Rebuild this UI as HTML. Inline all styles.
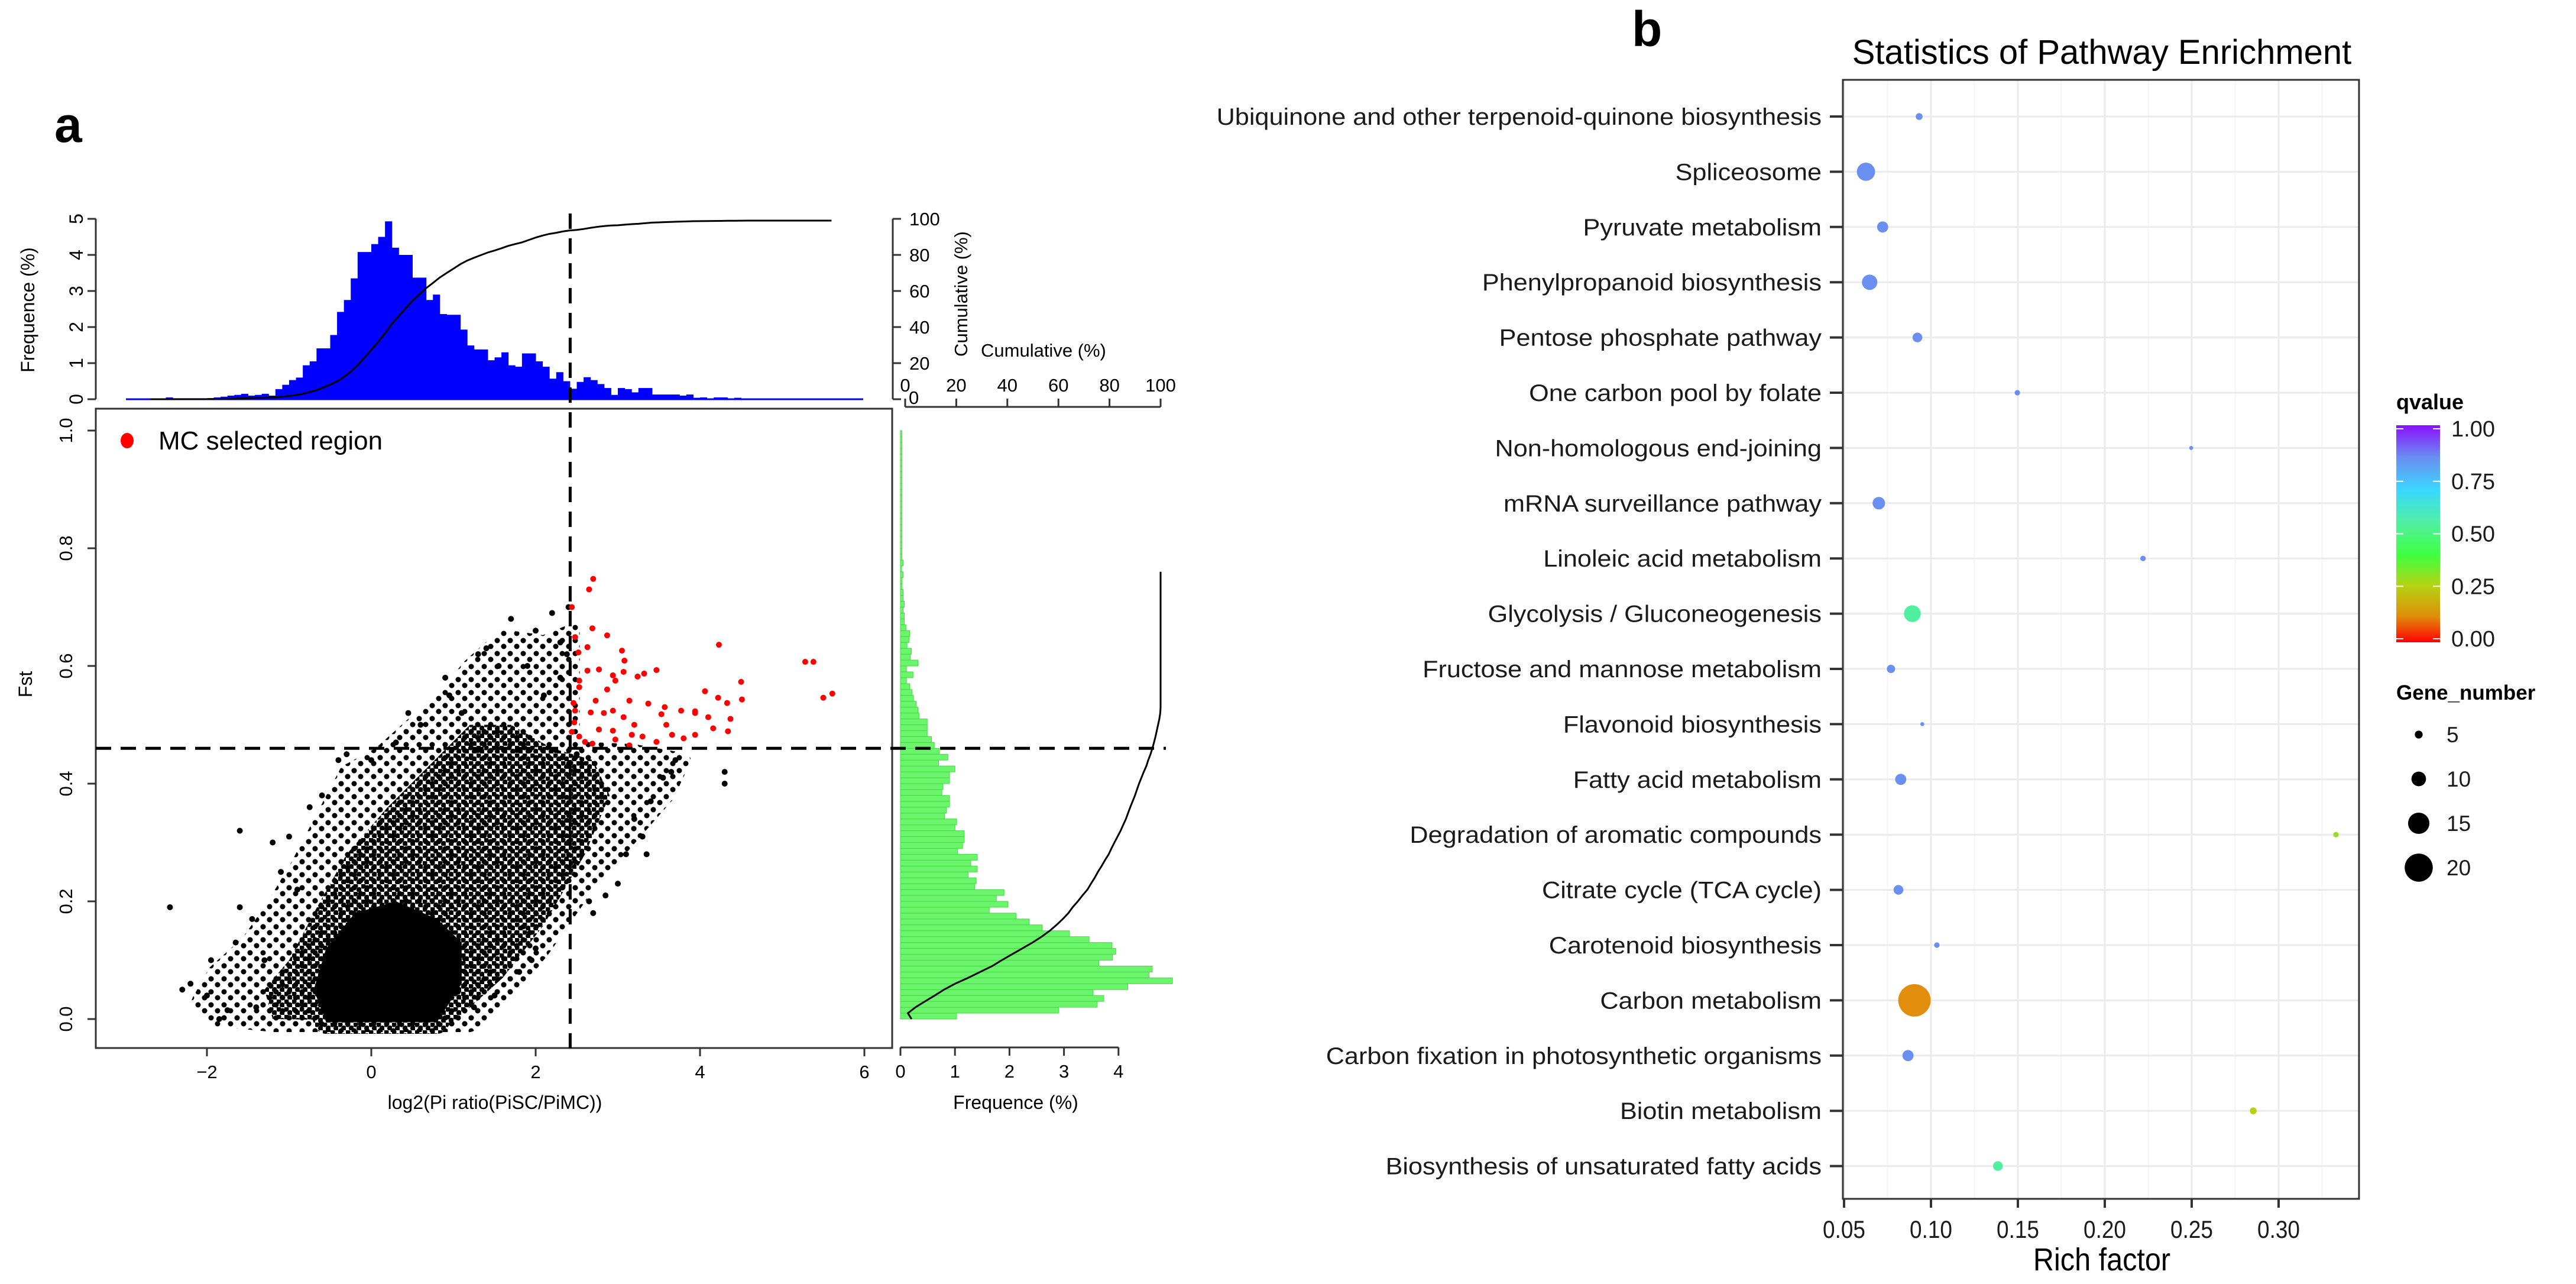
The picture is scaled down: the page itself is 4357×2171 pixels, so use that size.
<!DOCTYPE html>
<html><head><meta charset="utf-8">
<style>
html,body{margin:0;padding:0;background:#fff;}
svg{display:block;font-family:"Liberation Sans",Arial,sans-serif;}
</style></head>
<body>
<svg id="fig" xmlns="http://www.w3.org/2000/svg" width="4357" height="2171" viewBox="0 0 4357 2171">
<defs>
<pattern id="dotsSparse" x="0" y="0" width="22" height="22" patternUnits="userSpaceOnUse">
<circle cx="5" cy="5" r="4.5" fill="#000"/><circle cx="16" cy="15" r="4.5" fill="#000"/>
</pattern>
<pattern id="dotsDense" x="0" y="0" width="13" height="13" patternUnits="userSpaceOnUse">
<circle cx="3" cy="3" r="4.6" fill="#000"/><circle cx="9.5" cy="9.5" r="4.6" fill="#000"/>
</pattern>
</defs>
<rect x="0" y="0" width="4357" height="2171" fill="#fff"/>
<g id="pa"></g>
<g id="pb"></g>
</svg>
<script>
// ---------------- Panel A data ----------------
const topHistStart = -3;
const topHistWidth = 1/12;
const topHistFreq = [0,0,0,0,0,0,0.05,0,0,0,0,0,0.03,0.05,0.07,0.1,0.12,0.15,0.1,0.12,0.15,0.1,
 0.28,0.4,0.53,0.6,0.94,1.05,1.41,1.41,1.78,2.42,2.75,3.35,4.08,4.08,4.3,4.5,4.93,4.2,4.0,4.0,
 3.37,3.37,2.75,2.9,2.36,2.34,2.34,1.93,1.49,1.38,1.38,1.08,1.16,1.3,0.94,0.9,1.27,1.27,1.05,0.9,
 0.57,0.75,0.5,0.29,0.48,0.61,0.53,0.42,0.31,0.12,0.31,0.28,0.19,0.31,0.31,0.13,0.13,0.13,0.13,0.1,
 0.13,0.04,0.05,0.02,0.05,0.05,0.02,0.04,0.02];
const rightHistStart = 0;
const rightHistWidth = 0.01;
const rightHistFreq = [1.03,2.9,3.61,3.73,3.53,4.17,4.99,4.56,4.62,3.64,3.89,3.95,3.88,3.46,3.1,2.6,2.36,2.12,1.63,1.97,
 1.76,1.9,1.36,1.39,1.24,1.41,1.29,1.41,1.05,1.14,1.17,1.17,1.0,1.03,0.81,0.84,0.9,0.9,0.76,0.78,
 0.9,0.9,1.0,0.7,0.87,0.71,0.62,0.57,0.49,0.49,0.49,0.34,0.32,0.29,0.24,0.21,0.17,0.11,0.23,0.11,
 0.32,0.18,0.2,0.12,0.16,0.17,0.1,0.07,0.07,0.05,0.07,0.05,0.05,0.03,0.03,0.05,0.02,0.05,0.025,0.025,
 0.025,0.025,0.025,0.025,0.025,0.025,0.025,0.025,0.025,0.025,0.025,0.025,0.025,0.025,0.025,0.025,0.025,0.025,0.025,0.025];
const cloudOuter = [[-1.9,0.0],[-1.2,-0.01],[1.2,-0.01],[1.7,0.05],[2.1,0.12],[2.6,0.22],[3.1,0.3],[3.6,0.38],[3.8,0.44],[3.2,0.455],[2.45,0.46],[2.45,0.66],[2.1,0.64],[1.6,0.65],[1.2,0.6],[0.9,0.55],[0.5,0.5],[0.1,0.45],[-0.3,0.42],[-0.6,0.34],[-0.9,0.26],[-1.2,0.19],[-1.5,0.13],[-1.9,0.08],[-2.1,0.03]];
const cloudMid = [[-1.2,0.0],[1.0,-0.005],[1.6,0.07],[2.1,0.16],[2.6,0.28],[2.9,0.38],[2.7,0.44],[2.2,0.46],[1.7,0.5],[1.2,0.5],[0.7,0.43],[0.2,0.36],[-0.3,0.28],[-0.7,0.18],[-1.0,0.1],[-1.3,0.05]];
const cloudCore = [[-0.55,-0.005],[0.8,-0.005],[1.1,0.06],[1.1,0.13],[0.8,0.17],[0.3,0.2],[-0.2,0.18],[-0.55,0.12],[-0.7,0.05]];
const blackX = [-2.45,-1.6,-1.6,-1.0,-1.2,-0.3,-0.4,0.9,1.4,1.7,2.2,2.4,2.0,3.3,3.55,4.3,4.3,3.0,2.85,2.65,-2.3,-2.2,-1.85,-1.95,-1.65,2.5,3.7,3.4,1.1,0.3,0.6,1.9,2.3,-0.75,3.1,1.8,2.0,1.5,-1.4,-2.0,2.38,2.3,1.55,0.95,3.65,3.2,-1.75,-1.3,-0.9,-0.6,0.0,0.45,1.3,2.1,2.7,3.35,-1.45,-1.1,1.25,1.95];
const blackY = [0.19,0.32,0.19,0.31,0.3,0.45,0.44,0.58,0.63,0.68,0.69,0.7,0.66,0.31,0.41,0.42,0.4,0.23,0.21,0.2,0.05,0.06,0.0,0.1,0.13,0.45,0.44,0.37,0.52,0.47,0.5,0.6,0.64,0.36,0.28,0.08,0.12,0.04,0.02,0.04,0.62,0.58,0.6,0.55,0.42,0.34,0.015,0.1,0.22,0.38,0.44,0.52,0.62,0.55,0.18,0.28,0.17,0.25,0.02,0.1];
const redX = [2.70,2.65,2.44,2.69,2.87,2.48,2.63,2.52,3.05,3.08,4.23,5.28,5.38,5.50,5.61,4.50,4.51,4.33,4.22,4.06,3.47,3.32,3.24,2.77,2.63,2.94,2.97,2.53,2.73,3.14,3.37,3.57,3.53,3.77,3.94,4.10,4.37,2.48,2.67,2.83,3.07,3.20,3.59,2.47,2.77,2.94,3.17,3.30,2.97,2.53,2.60,3.47,3.80,3.94,4.16,4.34,3.66,2.44,2.69,3.14,2.87,2.46,2.53,3.07,2.94,3.94];
const redY = [0.748,0.73,0.70,0.664,0.652,0.649,0.632,0.623,0.626,0.609,0.636,0.607,0.607,0.546,0.553,0.573,0.543,0.537,0.546,0.557,0.593,0.587,0.582,0.594,0.592,0.584,0.575,0.575,0.541,0.541,0.536,0.530,0.518,0.524,0.523,0.513,0.51,0.524,0.521,0.52,0.513,0.50,0.50,0.504,0.492,0.49,0.483,0.48,0.475,0.48,0.471,0.471,0.477,0.483,0.494,0.489,0.483,0.488,0.468,0.465,0.56,0.537,0.564,0.59,0.524,0.52];
const scatterXTicks = [-2,0,2,4,6];
const scatterYTicks = [0,0.2,0.4,0.6,0.8,1.0];
const topFreqTicks = [0,1,2,3,4,5];
const cumTicks = [0,20,40,60,80,100];
const rightFreqTicks = [0,1,2,3,4];
const piThreshold = 2.42;
const fstThreshold = 0.46;

// ---------------- Panel B data ----------------
const pathways = ["Ubiquinone and other terpenoid-quinone biosynthesis","Spliceosome","Pyruvate metabolism","Phenylpropanoid biosynthesis","Pentose phosphate pathway","One carbon pool by folate","Non-homologous end-joining","mRNA surveillance pathway","Linoleic acid metabolism","Glycolysis / Gluconeogenesis","Fructose and mannose metabolism","Flavonoid biosynthesis","Fatty acid metabolism","Degradation of aromatic compounds","Citrate cycle (TCA cycle)","Carotenoid biosynthesis","Carbon metabolism","Carbon fixation in photosynthetic organisms","Biotin metabolism","Biosynthesis of unsaturated fatty acids"];
const richFactor = [0.0932,0.0626,0.0722,0.0647,0.0922,0.1497,0.2497,0.070,0.222,0.0893,0.077,0.095,0.0826,0.333,0.0813,0.1034,0.0905,0.0868,0.2854,0.1385];
const geneNumber = [4,12,7,10,6,3,2,8,3,11,5,2,7,3,6,3,22,7,4,6];
const qValue = [0.85,0.85,0.85,0.85,0.85,0.85,0.85,0.85,0.85,0.55,0.85,0.85,0.85,0.3,0.85,0.85,0.12,0.85,0.26,0.55];
const richTicks = [0.05,0.10,0.15,0.20,0.25,0.30];
const qTicks = [0,0.25,0.5,0.75,1.0];
const sizeBreaks = [5,10,15,20];

const NS = "http://www.w3.org/2000/svg";
function mk(parent, tag, attrs, text){
  const e = document.createElementNS(NS, tag);
  for (const k in attrs) e.setAttribute(k, attrs[k]);
  if (text !== undefined) e.textContent = text;
  parent.appendChild(e);
  return e;
}
const pa = document.getElementById('pa');
const pb = document.getElementById('pb');

const X = v => 628 + v*139;
const Y = f => 1723 - f*995;
const TY = p => 675 - p*61;
const TC = c => 675 - c/100*305;
const RX = p => 1523 + p*92.2;
const RC = c => 1531 + c/100*432;

let t = mk(pa,'text',{x:92,y:240,'font-size':84,'font-weight':'bold'},'a');
 

// ---- top histogram ----
const gTop = mk(pa,'g',{});
 
topHistFreq.forEach((f,i)=>{
  if (f<=0) return;
  const x0 = X(topHistStart+i*topHistWidth), x1 = X(topHistStart+(i+1)*topHistWidth);
  const r = mk(gTop,'rect',{x:x0,y:TY(f),width:x1-x0+0.5,height:TY(0)-TY(f),fill:'#0000ff'});
   
});
let l = mk(gTop,'line',{x1:213,y1:TY(0),x2:1460,y2:TY(0),stroke:'#0000ff','stroke-width':3});
 
{
  const tot = topHistFreq.reduce((a,b)=>a+b,0);
  let c=0, pts=[[X(-2.69),TC(0)]];
  topHistFreq.forEach((f,i)=>{ c+=f; if(i>=4) pts.push([X(topHistStart+(i+1)*topHistWidth),TC(c/tot*100*0.99)]); });
  pts.push([X(5.6),TC(99)]);
  const p = mk(gTop,'polyline',{points:pts.map(q=>q.join(',')).join(' '),fill:'none',stroke:'#000','stroke-width':3});
   
}
const gTA = mk(pa,'g',{});
 
mk(gTA,'line',{x1:162,y1:TY(0),x2:162,y2:TY(5),stroke:'#333','stroke-width':3});
topFreqTicks.forEach(v=>{
  mk(gTA,'line',{x1:148,y1:TY(v),x2:162,y2:TY(v),stroke:'#333','stroke-width':3});
  const tt = mk(gTA,'text',{x:0,y:0,'font-size':32,'text-anchor':'middle',transform:`translate(140,${TY(v)}) rotate(-90)`},String(v));
   
});
t = mk(pa,'text',{x:0,y:0,'font-size':32,'text-anchor':'middle',transform:'translate(58,524) rotate(-90)'},'Frequence (%)');
 
const gTC = mk(pa,'g',{});
 
mk(gTC,'line',{x1:1510,y1:TC(0),x2:1510,y2:TC(100),stroke:'#333','stroke-width':3});
cumTicks.forEach(v=>{
  mk(gTC,'line',{x1:1510,y1:TC(v),x2:1524,y2:TC(v),stroke:'#333','stroke-width':3});
  if (v>0){
    const tt = mk(gTC,'text',{x:1538,y:TC(v)+11,'font-size':31},String(v));
     
  }
});
t = mk(gTC,'text',{x:1537,y:TC(0)+8,'font-size':31},'0');
 
t = mk(pa,'text',{x:0,y:0,'font-size':31,'text-anchor':'middle',transform:'translate(1636,497) rotate(-90)'},'Cumulative (%)');
 
t = mk(pa,'text',{x:1659,y:603,'font-size':31},'Cumulative (%)');
 
const gRC = mk(pa,'g',{});
 
mk(gRC,'line',{x1:RC(0),y1:688,x2:RC(100),y2:688,stroke:'#333','stroke-width':3});
cumTicks.forEach(v=>{
  mk(gRC,'line',{x1:RC(v),y1:674,x2:RC(v),y2:688,stroke:'#333','stroke-width':3});
  const tt = mk(gRC,'text',{x:RC(v),y:662,'font-size':31,'text-anchor':'middle'},String(v));
   
});

// ---- scatter ----
const gS = mk(pa,'g',{});
 
const poly = (arr)=>arr.map(p=>X(p[0])+','+Y(p[1])).join(' ');
let pg = mk(gS,'polygon',{points:poly(cloudOuter),fill:'url(#dotsSparse)',stroke:'url(#dotsSparse)','stroke-width':24,'stroke-linejoin':'round'});
 
pg = mk(gS,'polygon',{points:poly(cloudMid),fill:'url(#dotsDense)',stroke:'url(#dotsSparse)','stroke-width':30,'stroke-linejoin':'round'});
 
pg = mk(gS,'polygon',{points:poly(cloudCore),fill:'#000',stroke:'url(#dotsDense)','stroke-width':40,'stroke-linejoin':'round'});
 
blackX.forEach((v,i)=>{
  const c = mk(gS,'circle',{cx:X(v),cy:Y(blackY[i]),r:5,fill:'#000'});
   
});
redX.forEach((v,i)=>{
  const c = mk(gS,'circle',{cx:X(v),cy:Y(redY[i]),r:5,fill:'#ff0000'});
   
});
let box = mk(gS,'rect',{x:162,y:691,width:1347,height:1081,fill:'none',stroke:'#333','stroke-width':3});
 
scatterXTicks.forEach(v=>{
  mk(gS,'line',{x1:X(v),y1:1772,x2:X(v),y2:1786,stroke:'#333','stroke-width':3});
  const tt = mk(gS,'text',{x:X(v),y:1823,'font-size':31,'text-anchor':'middle'},v<0?'\u2212'+Math.abs(v):String(v));
   
});
scatterYTicks.forEach(v=>{
  mk(gS,'line',{x1:148,y1:Y(v),x2:162,y2:Y(v),stroke:'#333','stroke-width':3});
  const tt = mk(gS,'text',{x:0,y:0,'font-size':31,'text-anchor':'middle',transform:`translate(122,${Y(v)}) rotate(-90)`},v.toFixed(1));
   
});
t = mk(pa,'text',{x:837,y:1875,'font-size':32,'text-anchor':'middle'},'log2(Pi ratio(PiSC/PiMC))');
 
t = mk(pa,'text',{x:0,y:0,'font-size':32,'text-anchor':'middle',transform:'translate(54,1157) rotate(-90)'},'Fst');
 
let lc = mk(pa,'ellipse',{cx:215,cy:745,rx:11,ry:13,fill:'#ff0000'});
 
t = mk(pa,'text',{x:268,y:760,'font-size':44},'MC selected region');
 

// ---- right histogram ----
const gR = mk(pa,'g',{});
 
rightHistFreq.forEach((f,i)=>{
  const y0 = Y(rightHistStart+i*rightHistWidth), y1 = Y(rightHistStart+(i+1)*rightHistWidth);
  const r = mk(gR,'rect',{x:RX(0),y:y1,width:Math.max(RX(f)-RX(0),2),height:y0-y1,fill:'#6cf56c',stroke:'#3fdc3f','stroke-width':1});
   
});
{
  const tot = rightHistFreq.reduce((a,b)=>a+b,0);
  let c=0, pts=[[RC(2.5),Y(0)]];
  rightHistFreq.forEach((f,i)=>{ c+=f; if(i<=75) pts.push([RC(Math.min(c/tot*100*1.04,100)),Y(rightHistStart+(i+1)*rightHistWidth)]); });
  const p = mk(gR,'polyline',{points:pts.map(q=>q.join(',')).join(' '),fill:'none',stroke:'#000','stroke-width':3});
   
}
const gRA = mk(pa,'g',{});
 
mk(gRA,'line',{x1:RX(0),y1:1771,x2:RX(4),y2:1771,stroke:'#333','stroke-width':3});
rightFreqTicks.forEach(v=>{
  mk(gRA,'line',{x1:RX(v),y1:1771,x2:RX(v),y2:1785,stroke:'#333','stroke-width':3});
  const tt = mk(gRA,'text',{x:RX(v),y:1822,'font-size':31,'text-anchor':'middle'},String(v));
   
});
t = mk(pa,'text',{x:1718,y:1875,'font-size':32,'text-anchor':'middle'},'Frequence (%)');
 

l = mk(pa,'line',{x1:X(piThreshold),y1:361,x2:X(piThreshold),y2:1772,stroke:'#000','stroke-width':5,'stroke-dasharray':'26,16'});
 
l = mk(pa,'line',{x1:162,y1:Y(fstThreshold),x2:1972,y2:Y(fstThreshold),stroke:'#000','stroke-width':5,'stroke-dasharray':'26,16'});
 

// ---------------- Panel B ----------------
const BX = v => 3119 + (v-0.05)*2940;
const BY = i => 197 + i*93.4;
const PL = 3117, PR = 3990, PT = 135, PBm = 2027;
const qStops = [[0,'#ff0000'],[0.12,'#e08e0b'],[0.26,'#b5d312'],[0.4,'#40ff40'],[0.55,'#50f0a0'],[0.7,'#3ad8ff'],[0.85,'#6a8ff0'],[1,'#8a10ff']];
function qColor(q){
  const h = c=>[parseInt(c.substr(1,2),16),parseInt(c.substr(3,2),16),parseInt(c.substr(5,2),16)];
  for(let i=1;i<qStops.length;i++){
    if(q<=qStops[i][0]){
      const a=qStops[i-1],b=qStops[i],t=(q-a[0])/(b[0]-a[0]);
      const ca=h(a[1]),cb=h(b[1]);
      return 'rgb('+ca.map((v,k)=>Math.round(v+(cb[k]-v)*t)).join(',')+')';
    }
  }
  return qStops[qStops.length-1][1];
}
const sizeR = n => 1.2*n + 1;

t = mk(pb,'text',{x:2760,y:78,'font-size':84,'font-weight':'bold'},'b');
 
t = mk(pb,'text',{x:3555,y:108,'font-size':58,'text-anchor':'middle'},'Statistics of Pathway Enrichment');
 

const gG = mk(pb,'g',{});
 
richTicks.forEach((v,i)=>{
  mk(gG,'line',{x1:BX(v),y1:PT,x2:BX(v),y2:PBm,stroke:'#ebebeb','stroke-width':3});
  mk(gG,'line',{x1:BX(v+0.025),y1:PT,x2:BX(v+0.025),y2:PBm,stroke:'#f4f4f4','stroke-width':2});
});
pathways.forEach((p,i)=>{ mk(gG,'line',{x1:PL,y1:BY(i),x2:PR,y2:BY(i),stroke:'#ebebeb','stroke-width':3}); });

const gD = mk(pb,'g',{});
 
pathways.forEach((p,i)=>{
  const c = mk(gD,'circle',{cx:BX(richFactor[i]),cy:BY(i),r:sizeR(geneNumber[i]),fill:qColor(qValue[i])});
   
});
let fr = mk(pb,'rect',{x:PL,y:PT,width:PR-PL,height:PBm-PT,fill:'none',stroke:'#333','stroke-width':3});
 

const gYL = mk(pb,'g',{});
 
const labels = [];
pathways.forEach((p,i)=>{
  mk(gYL,'line',{x1:3095,y1:BY(i),x2:PL,y2:BY(i),stroke:'#333','stroke-width':4});
  const tt = mk(gYL,'text',{x:0,y:0,'font-size':40,'text-anchor':'end',fill:'#1a1a1a'},p);
   
  labels.push([tt,i]);
});
let scale = 0.86;
try { const w = labels[0][0].getComputedTextLength(); if (w>0) scale = 1024/w; } catch(e){}
labels.forEach(([tt,i])=>{ tt.setAttribute('transform',`translate(3081,${BY(i)+14}) scale(${scale},1)`); });

const gXA = mk(pb,'g',{});
 
richTicks.forEach(v=>{
  mk(gXA,'line',{x1:BX(v),y1:PBm,x2:BX(v),y2:PBm+15,stroke:'#333','stroke-width':4});
  const tt = mk(gXA,'text',{x:0,y:0,'font-size':42,'text-anchor':'middle',fill:'#1a1a1a',transform:`translate(${BX(v)},2093) scale(0.88,1)`},v.toFixed(2));
   
});
t = mk(pb,'text',{x:0,y:0,'font-size':54,'text-anchor':'middle',transform:'translate(3555,2148) scale(0.9,1)'},'Rich factor');
 

const defs = document.querySelector('defs');
const lg = mk(defs,'linearGradient',{id:'qg',x1:0,y1:1,x2:0,y2:0});
qStops.forEach(s=>mk(lg,'stop',{offset:s[0],'stop-color':s[1]}));
const gQ = mk(pb,'g',{});
 
t = mk(gQ,'text',{x:4053,y:692,'font-size':36,'font-weight':'bold'},'qvalue');
 
const QY = q => 1080 - q*355;
mk(gQ,'rect',{x:4053,y:QY(1)-6,width:74,height:QY(0)-QY(1)+12,fill:'url(#qg)'});
qTicks.forEach(q=>{
  mk(gQ,'line',{x1:4053,y1:QY(q),x2:4065,y2:QY(q),stroke:'#fff','stroke-width':2});
  mk(gQ,'line',{x1:4115,y1:QY(q),x2:4127,y2:QY(q),stroke:'#fff','stroke-width':2});
  const tt = mk(gQ,'text',{x:4146,y:QY(q)+13,'font-size':38,fill:'#1a1a1a'},q.toFixed(2));
   
});
const gN = mk(pb,'g',{});
 
t = mk(gN,'text',{x:4053,y:1183,'font-size':35,'font-weight':'bold'},'Gene_number');
 
sizeBreaks.forEach((n,i)=>{
  const cy = 1242 + i*75;
  const c = mk(gN,'circle',{cx:4091,cy:cy,r:sizeR(n)*0.95,fill:'#000'});
   
  const tt = mk(gN,'text',{x:4138,y:cy+13,'font-size':37,fill:'#1a1a1a'},String(n));
   
});
</script>
</body></html>
